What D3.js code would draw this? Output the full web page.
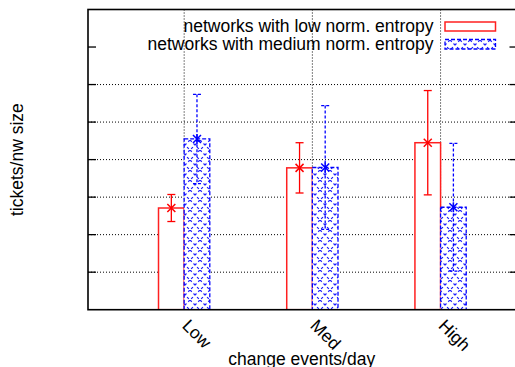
<!DOCTYPE html>
<html>
<head>
<meta charset="utf-8">
<script src="https://cdn.jsdelivr.net/npm/d3@7"></script>
<style>
  body { margin: 0; background: #fff; }
  text { font-family: "Liberation Sans", Arial, Helvetica, sans-serif; font-size: 17.5px; fill: #000; }
</style>
</head>
<body>
<svg id="chart" width="515" height="367"></svg>
<script>
const categories = ["Low", "Med", "High"]
const lowMean = [2.71, 3.78, 4.45]
const lowErr = [0.36, 0.67, 1.39]
const medMean = [4.55, 3.79, 2.73]
const medErr = [1.19, 1.65, 1.70]
const yTicks = [0, 1, 2, 3, 4, 5, 6, 7, 8]
const gridTicks = [1, 2, 3, 4, 5, 6]
const legendLabels = ["networks with low norm. entropy", "networks with medium norm. entropy"]

const plotLeft = 88, plotRight = 517.5, plotTop = 9.5, plotBottom = 309.7
const barW = 0.2

const svg = d3.select("#chart")

const x = d3.scaleLinear().domain([-0.75, 2.6]).range([plotLeft, plotRight])
const y = d3.scaleLinear().domain([0, 8]).range([plotBottom, plotTop])

// pattern for the blue bars
const defs = svg.append("defs")
const pat = defs.append("pattern")
  .attr("id", "hatch")
  .attr("patternUnits", "userSpaceOnUse")
  .attr("width", 10).attr("height", 10)
pat.append("rect").attr("width", 10).attr("height", 10).attr("fill", "#fff")
pat.append("path").attr("d", "M0,0L10,10M10,0L0,10")
  .attr("stroke", "#1a1aff").attr("stroke-width", 1.2)
  .attr("stroke-dasharray", "2.5,2.5")

defs.append("clipPath").attr("id", "plotclip")
  .append("rect").attr("x", plotLeft).attr("y", plotTop)
  .attr("width", plotRight - plotLeft).attr("height", plotBottom - plotTop)

// grid
const grid = svg.append("g")
grid.selectAll("line.h")
  .data(gridTicks)
  .join("line")
  .attr("class", "h")
  .attr("x1", plotLeft).attr("x2", plotRight)
  .attr("y1", d => y(d)).attr("y2", d => y(d))
  .attr("stroke", "#000").attr("stroke-width", 1)
  .attr("stroke-dasharray", "1,2")
grid.selectAll("line.v")
  .data(categories)
  .join("line")
  .attr("class", "v")
  .attr("x1", (d, i) => x(i)).attr("x2", (d, i) => x(i))
  .attr("y1", plotTop).attr("y2", plotBottom)
  .attr("stroke", "#000").attr("stroke-width", 1)
  .attr("stroke-dasharray", "1,2")

const plot = svg.append("g").attr("clip-path", "url(#plotclip)")

// low entropy bars (red)
plot.selectAll("rect.low")
  .data(lowMean)
  .join("rect")
  .attr("class", "low")
  .attr("x", (d, i) => x(i - barW))
  .attr("y", d => y(d))
  .attr("width", x(barW) - x(0))
  .attr("height", d => y(0) - y(d))
  .attr("fill", "#fff")
  .attr("stroke", "#ff2020").attr("stroke-width", 1.5)

// medium entropy bars (blue)
plot.selectAll("rect.med")
  .data(medMean)
  .join("rect")
  .attr("class", "med")
  .attr("x", (d, i) => x(i))
  .attr("y", d => y(d))
  .attr("width", x(barW) - x(0))
  .attr("height", d => y(0) - y(d))
  .attr("fill", "url(#hatch)")
  .attr("stroke", "#0000ff").attr("stroke-width", 1.3)
  .attr("stroke-dasharray", "4,2")

function errorBars(cls, means, errs, offset, color, dash) {
  const g = svg.append("g").attr("class", cls)
    .attr("stroke", color).attr("stroke-width", 1.3).attr("fill", "none")
  means.forEach((m, i) => {
    const cx = x(i + offset)
    const y1 = y(m + errs[i]), y0 = y(m - errs[i])
    g.append("line").attr("x1", cx).attr("x2", cx).attr("y1", y1).attr("y2", y0)
      .attr("stroke-dasharray", dash)
    g.append("line").attr("x1", cx - 4).attr("x2", cx + 4).attr("y1", y1).attr("y2", y1)
      .attr("stroke-dasharray", dash)
    g.append("line").attr("x1", cx - 4).attr("x2", cx + 4).attr("y1", y0).attr("y2", y0)
      .attr("stroke-dasharray", dash)
    const py = y(m)
    const s = 4
    let d = `M${cx - s},${py - s}L${cx + s},${py + s}M${cx + s},${py - s}L${cx - s},${py + s}`
    if (cls === "med-err") d += `M${cx},${py - s - 1}L${cx},${py + s + 1}`
    g.append("path").attr("d", d).attr("stroke-width", 1.5)
  })
}
errorBars("low-err", lowMean, lowErr, -barW / 2, "#ff0000", null)
errorBars("med-err", medMean, medErr, barW / 2, "#0000ff", "3,2")

// border + ticks
const axis = svg.append("g").attr("stroke", "#000")
axis.selectAll("line.tl")
  .data(yTicks.slice(1, -1))
  .join("line")
  .attr("class", "tl")
  .attr("x1", plotLeft).attr("x2", plotLeft + 8)
  .attr("y1", d => y(d)).attr("y2", d => y(d))
  .attr("stroke-width", 1.3)
axis.selectAll("line.tr")
  .data(yTicks.slice(1, -1))
  .join("line")
  .attr("class", "tr")
  .attr("x1", plotRight - 8).attr("x2", plotRight)
  .attr("y1", d => y(d)).attr("y2", d => y(d))
  .attr("stroke-width", 1.3)
axis.append("rect")
  .attr("x", plotLeft).attr("y", plotTop)
  .attr("width", plotRight - plotLeft).attr("height", plotBottom - plotTop)
  .attr("fill", "none").attr("stroke-width", 1.6)

// x tick labels
svg.selectAll("text.xt")
  .data(categories)
  .join("text")
  .attr("class", "xt")
  .attr("transform", (d, i) => `translate(${x(i) - 3},${plotBottom + 17}) rotate(45)`)
  .attr("text-anchor", "start")
  .text(d => d)

// axis titles
svg.append("text")
  .attr("x", (plotLeft + plotRight) / 2 - 1).attr("y", 364.5)
  .attr("text-anchor", "middle")
  .text("change events/day")
svg.append("text")
  .attr("transform", `translate(23,${(plotTop + plotBottom) / 2}) rotate(-90)`)
  .attr("text-anchor", "middle")
  .text("tickets/nw size")

// legend
const legend = svg.append("g")
legend.selectAll("text")
  .data(legendLabels)
  .join("text")
  .attr("x", 433.5)
  .attr("y", (d, i) => 32.3 + i * 17.7)
  .attr("text-anchor", "end")
  .text(d => d)
legend.append("rect")
  .attr("x", 445).attr("y", 22).attr("width", 50.5).attr("height", 9)
  .attr("fill", "#fff").attr("stroke", "#ff2020").attr("stroke-width", 1.5)
legend.append("rect")
  .attr("x", 445).attr("y", 39.5).attr("width", 50.5).attr("height", 9.5)
  .attr("fill", "url(#hatch)").attr("stroke", "#0000ff").attr("stroke-width", 1.3)
  .attr("stroke-dasharray", "4,2")
</script>
</body>
</html>
